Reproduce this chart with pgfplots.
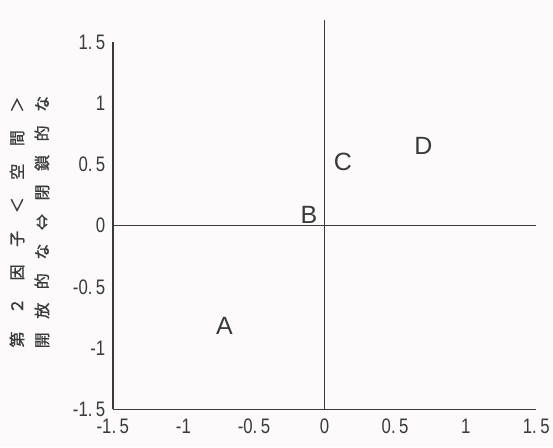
\documentclass[border=0pt]{standalone}
\usepackage{fontspec}
\setmainfont{Liberation Sans}
\newfontfamily\tickfont{Liberation Sans}[FakeStretch=0.8]
\newfontfamily\jpfont{Noto Sans CJK JP}[FakeBold=1.2]
\usepackage{pgfplots}
\pgfplotsset{compat=1.18}
\usetikzlibrary{backgrounds}
\definecolor{ink}{HTML}{3A3A3A}
\definecolor{paper}{HTML}{FCFAFB}

% positions of the four groups on factor 1 (x) and factor 2 (y)
\pgfplotstableread{
x     y     name
-0.71 -0.82 A
-0.11  0.09 B
 0.13  0.52 C
 0.70  0.65 D
}\groups

\begin{document}
\begin{tikzpicture}
\begin{axis}[
  width=424pt, height=368pt, scale only axis,
  xmin=-1.5, xmax=1.5, ymin=-1.5, ymax=1.5,
  axis x line*=bottom, axis y line*=left,
  axis line style={ink, line width=1.6pt, -},
  major tick length=0pt,
  xtick={-1.5,-1,-0.5,0,0.5,1,1.5},
  xticklabels={-1.\,5,-1,-0.\,5,0,0.\,5,1,1.\,5},
  ytick={-1.5,-1,-0.5,0,0.5,1,1.5},
  yticklabels={-1.\,5,-1,-0.\,5,0,0.\,5,1,1.\,5},
  /pgf/number format/assume math mode=true,
  tick label style={font=\tickfont\fontsize{21}{21}\selectfont, text=ink},
  xticklabel style={yshift=-6pt},
  yticklabel style={xshift=-4pt},
  clip=false,
]
  \coordinate (O) at (rel axis cs:0,0);
  % reference lines through the origin
  \addplot[ink, line width=1pt] coordinates {(0,-1.5) (0,1.68)};
  \addplot[ink, line width=1pt] coordinates {(-1.5,0) (1.5,0)};
  % group labels
  \addplot[only marks, mark=none, nodes near coords,
    point meta=explicit symbolic,
    every node near coord/.style={anchor=center, text=ink,
      font=\fontsize{25}{25}\selectfont}]
    table[x=x, y=y, meta=name] {\groups};
  % axis title (two lines, rotated)
  \node[xshift=-96pt, rotate=90, text=ink, anchor=center]
    at (rel axis cs:0,0.51)
    {\jpfont\addfontfeature{LetterSpace=110}\fontsize{16}{16}\selectfont 第２因子＜空間＞};
  \node[xshift=-71pt, rotate=90, text=ink, anchor=center]
    at (rel axis cs:0,0.51)
    {\jpfont\addfontfeature{LetterSpace=85}\fontsize{16}{16}\selectfont 開放的な⇔閉鎖的な};
\end{axis}
\begin{scope}[on background layer]
  \fill[paper] ([shift={(-113pt,-38pt)}]O) rectangle ++(553pt,448pt);
\end{scope}
\path[use as bounding box] ([shift={(-113pt,-38pt)}]O) rectangle ++(553pt,448pt);
\end{tikzpicture}
\end{document}
